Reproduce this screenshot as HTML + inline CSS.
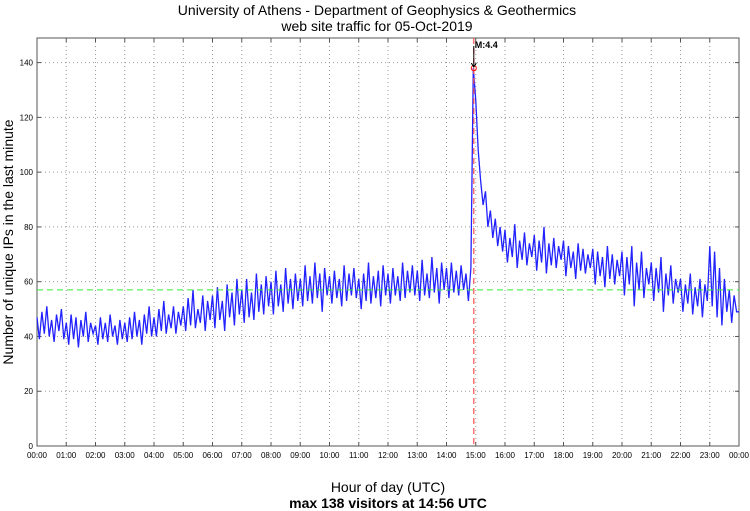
<!DOCTYPE html>
<html><head><meta charset="utf-8"><style>
body{margin:0;background:#fff;}
svg{display:block;font-family:"Liberation Sans",sans-serif;}
</style></head><body>
<svg id="chart" width="750" height="511">
<text x="377" y="15" font-size="14" text-anchor="middle">University of Athens - Department of Geophysics &amp; Geothermics</text>
<text x="377" y="31" font-size="14" text-anchor="middle">web site traffic for 05-Oct-2019</text>
<text transform="translate(13,242) rotate(-90)" font-size="14" text-anchor="middle">Number of unique IPs in the last minute</text>
<text x="388" y="492" font-size="14" text-anchor="middle">Hour of day (UTC)</text>
<text x="388" y="508" font-size="14" font-weight="bold" text-anchor="middle">max 138 visitors at 14:56 UTC</text>
<g id="grid"></g><g id="series"></g><g id="overlay"></g>
</svg>
<script>
const yTicks=[0,20,40,60,80,100,120,140];
const hourLabels=["00:00","01:00","02:00","03:00","04:00","05:00","06:00","07:00","08:00","09:00","10:00","11:00","12:00","13:00","14:00","15:00","16:00","17:00","18:00","19:00","20:00","21:00","22:00","23:00","00:00"];
const meanValue=57;
const peakValue=138;
const peakHour=14+56/60;
const eventLabel="M:4.4";
const visitors=[
47,39,49,41,51,40,46,38,48,42,50,39,
45,37,48,39,47,36,46,40,49,38,45,41,
44,37,47,39,45,38,48,40,44,37,46,39,
45,38,47,39,49,40,46,37,48,41,51,40,
47,40,50,42,53,41,48,43,51,41,49,44,
51,42,54,44,57,43,50,45,55,42,53,46,
55,43,58,46,53,42,59,47,56,44,61,48,
57,45,61,47,56,46,63,49,59,48,62,51,
60,48,64,51,59,49,65,52,61,50,63,53,
61,51,66,53,62,52,67,54,63,49,65,55,
62,52,64,54,61,51,66,53,63,55,65,54,
61,50,63,53,67,52,62,54,64,51,66,55,
63,52,65,55,62,53,67,54,64,56,66,55,
64,53,68,55,63,54,69,56,65,52,67,57,
65,54,67,56,64,55,66,57,63,53,65,138,
126,108,97,88,93,80,86,76,83,73,80,71,
79,67,76,69,81,65,75,68,78,66,74,69,
77,64,75,67,80,63,74,66,76,65,73,68,
75,62,73,65,71,61,74,64,72,63,70,65,
72,59,71,62,69,58,73,61,70,59,68,62,
71,55,69,59,73,51,67,57,71,54,65,59,
67,53,65,56,69,49,63,55,66,52,61,56,
61,49,59,52,63,48,58,51,61,47,59,53,
73,51,71,47,65,44,61,49,57,45,55,49,49];
const L=37,R=739,T=38,B=446;
const x=h=>L+(R-L)*h/24;
const y=v=>B-v*(B-62.6)/140;
const NS="http://www.w3.org/2000/svg";
function mk(tag,attrs,parent){const e=document.createElementNS(NS,tag);for(const k in attrs)e.setAttribute(k,attrs[k]);parent.appendChild(e);return e;}
const g=document.getElementById('grid');
const frame=mk('rect',{x:L,y:T,width:R-L,height:B-T,fill:'none',stroke:'#555','stroke-width':1},g);


yTicks.forEach(v=>{
  if(v>0){const l=mk('line',{x1:L,x2:R,y1:y(v),y2:y(v),stroke:'#999','stroke-dasharray':'1,3'},g);
  
  }
  const t=mk('text',{x:L-4,y:y(v)+3,'font-size':8,'text-anchor':'end'},g);t.textContent=v;
  
  
  mk('line',{x1:L,x2:L+4,y1:y(v),y2:y(v),stroke:'#555'},g);
  mk('line',{x1:R,x2:R-4,y1:y(v),y2:y(v),stroke:'#555'},g);
});
hourLabels.forEach((s,i)=>{
  if(i>0&&i<24){const l=mk('line',{x1:x(i),x2:x(i),y1:T,y2:B,stroke:'#999','stroke-dasharray':'1,3'},g);
  
  }
  mk('line',{x1:x(i),x2:x(i),y1:B,y2:B-4,stroke:'#555'},g);
  mk('line',{x1:x(i),x2:x(i),y1:T,y2:T+4,stroke:'#555'},g);
  const t=mk('text',{x:x(i),y:B+12,'font-size':8,'text-anchor':'middle'},g);t.textContent=s;
  
  
});
const s=document.getElementById('series');
const n=visitors.length-1;
const pts=visitors.map((v,i)=>x(24*i/n).toFixed(1)+','+y(v).toFixed(1)).join(' ');
const line=mk('polyline',{points:pts,fill:'none',stroke:'#2222ff','stroke-width':1.3},s);


const o=document.getElementById('overlay');
const mean=mk('line',{x1:L,x2:R,y1:y(meanValue),y2:y(meanValue),stroke:'#33ee33','stroke-dasharray':'6,4'},o);


const ev=mk('line',{x1:x(peakHour),x2:x(peakHour),y1:T,y2:B,stroke:'#ff5050','stroke-dasharray':'6,4','stroke-width':1.2},o);


const c=mk('circle',{cx:x(peakHour),cy:y(peakValue),r:2.5,fill:'none',stroke:'#f00'},o);


const ar=mk('path',{d:`M${x(peakHour)},${T+8} V${y(peakValue)-1} M${x(peakHour)-2.5},${y(peakValue)-5} L${x(peakHour)},${y(peakValue)-1} L${x(peakHour)+2.5},${y(peakValue)-5}`,fill:'none',stroke:'#000'},o);


const et=mk('text',{x:x(peakHour)+1,y:T+10,'font-size':9,'font-weight':'bold'},o);et.textContent=eventLabel;


</script>
</body></html>
